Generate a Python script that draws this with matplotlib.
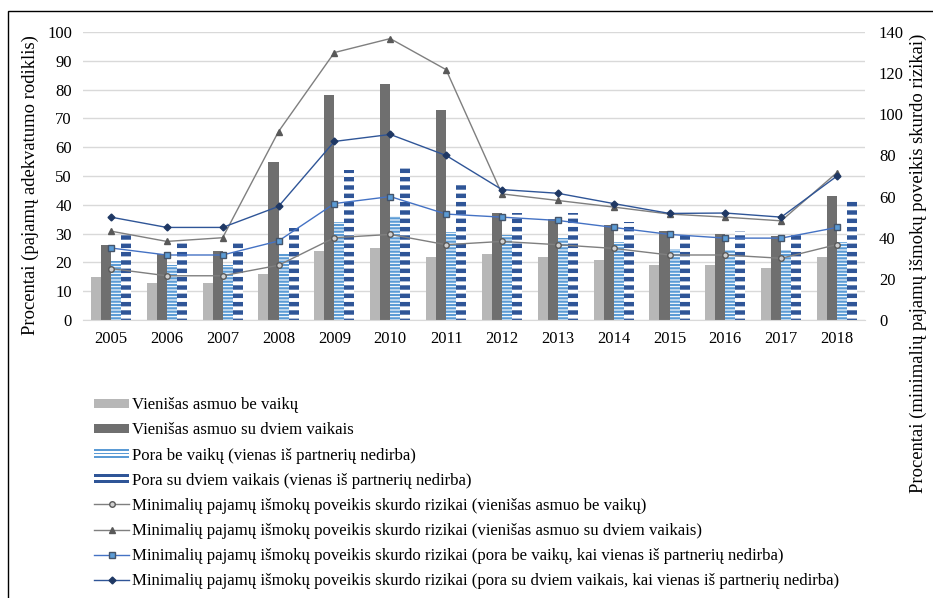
import matplotlib
matplotlib.use('Agg')
import matplotlib.pyplot as plt
import numpy as np
from matplotlib.patches import Rectangle
from matplotlib.legend_handler import HandlerBase

plt.rcParams['font.family'] = ['Liberation Serif', 'DejaVu Serif']

years = ['2005', '2006', '2007', '2008', '2009', '2010', '2011',
         '2012', '2013', '2014', '2015', '2016', '2017', '2018']

# bars, left axis (pajamu adekvatumo rodiklis)
single_no_kids = [15, 13, 13, 16, 24, 25, 22, 23, 22, 21, 19, 19, 18, 22]
single_two_kids = [26, 23, 24, 55, 78, 82, 73, 37, 35, 33, 31, 30, 29, 43]
couple_no_kids = [20.5, 19, 19, 23, 34, 36, 30.5, 29.5, 28.3, 27, 24.7, 24.3, 24.3, 27]
couple_two_kids = [29.5, 27, 27, 32, 52, 53, 47.5, 37.2, 37, 34, 29.5, 31, 29.5, 42]

# lines, right axis (poveikis skurdo rizikai)
eff_single_no_kids = [25, 21.5, 21.5, 26.6, 40, 41.6, 36.6, 38.2, 36.6, 34.8, 31.6, 31.6, 30, 36.7]
eff_single_two_kids = [43.2, 38.2, 40, 91.6, 130, 136.8, 121.7, 61.3, 58.1, 54.9, 51.5, 50, 48.2, 71.7]
eff_couple_no_kids = [35, 31.6, 31.6, 38.4, 56.6, 60, 51.5, 50, 48.4, 45, 41.6, 39.8, 39.8, 45]
eff_couple_two_kids = [50, 45, 45, 55.2, 86.8, 90.2, 80, 63.4, 61.6, 56.6, 51.8, 52, 50, 70]

bar_labels = ['Vienišas asmuo be vaikų',
              'Vienišas asmuo su dviem vaikais',
              'Pora be vaikų (vienas iš partnerių nedirba)',
              'Pora su dviem vaikais (vienas iš partnerių nedirba)']
line_labels = ['Minimalių pajamų išmokų poveikis skurdo rizikai (vienišas asmuo be vaikų)',
               'Minimalių pajamų išmokų poveikis skurdo rizikai (vienišas asmuo su dviem vaikais)',
               'Minimalių pajamų išmokų poveikis skurdo rizikai (pora be vaikų, kai vienas iš partnerių nedirba)',
               'Minimalių pajamų išmokų poveikis skurdo rizikai (pora su dviem vaikais, kai vienas iš partnerių nedirba)']


class StripedHandler(HandlerBase):
    # legend key for striped bars: a few horizontal stripes
    def __init__(self, color, n):
        super().__init__()
        self.color = color
        self.n = n

    def create_artists(self, legend, orig_handle, xdescent, ydescent,
                       width, height, fontsize, trans):
        arts = []
        step = height / (2 * self.n - 1)
        for i in range(self.n):
            r = Rectangle((-xdescent, -ydescent + 2 * i * step), width, step,
                          facecolor=self.color, edgecolor='none', transform=trans)
            arts.append(r)
        return arts


fig = plt.figure(figsize=(9.33, 5.98), dpi=100)
ax = fig.add_axes([83 / 933, 1 - 320 / 598, (865 - 83) / 933, (320 - 32) / 598])

x = np.arange(len(years))
w = 0.18

b1 = ax.bar(x - 1.5 * w, single_no_kids, w, color='#B7B7B7', label=bar_labels[0], zorder=2)
b2 = ax.bar(x - 0.5 * w, single_two_kids, w, color='#6F6F6F', label=bar_labels[1], zorder=2)
b3 = ax.bar(x + 0.5 * w, couple_no_kids, w, facecolor='white', edgecolor='#5B9BD5',
            hatch='-----', linewidth=0, label=bar_labels[2], zorder=2)
b4 = ax.bar(x + 1.5 * w, couple_two_kids, w, facecolor='white', edgecolor='#2F5597',
            hatch='--', linewidth=0, label=bar_labels[3], zorder=2)
for bars, hlw in [(b3, 1.6), (b4, 3.2)]:
    for p in bars:
        if hasattr(p, 'set_hatch_linewidth'):
            p.set_hatch_linewidth(hlw)

ax.set_xlim(-0.5, len(years) - 0.5)
ax.set_ylim(0, 100)
ax.set_yticks(range(0, 101, 10))
ax.set_xticks(x, years)
ax.yaxis.grid(True, color='#D9D9D9', linewidth=1, zorder=0)
ax.set_axisbelow(True)
for s in ['top', 'left', 'right']:
    ax.spines[s].set_visible(False)
ax.spines['bottom'].set_color('#D9D9D9')
ax.tick_params(length=0, labelsize=12, colors='black')
ax.tick_params(axis='x', pad=8)
ax.tick_params(axis='y', pad=8)

ax2 = ax.twinx()
ax2.set_ylim(0, 140)
ax2.set_yticks(range(0, 141, 20))
for s in ax2.spines.values():
    s.set_visible(False)
ax2.tick_params(length=0, labelsize=12, pad=10)

l1, = ax2.plot(x, eff_single_no_kids, color='#7F7F7F', lw=1, marker='o', ms=4,
               mfc='#D0D0D0', mec='#595959', mew=1, label=line_labels[0])
l2, = ax2.plot(x, eff_single_two_kids, color='#7F7F7F', lw=1, marker='^', ms=4.5,
               mfc='#595959', mec='#595959', label=line_labels[1])
l3, = ax2.plot(x, eff_couple_no_kids, color='#4472C4', lw=1, marker='s', ms=4,
               mfc='#5B9BD5', mec='#44546A', mew=1, label=line_labels[2])
l4, = ax2.plot(x, eff_couple_two_kids, color='#2F5597', lw=1, marker='D', ms=3.5,
               mfc='#1F3864', mec='#1F3864', label=line_labels[3])

fig.text(30 / 933, 1 - 185 / 598, 'Procentai (pajamų adekvatumo rodiklis)',
         rotation=90, ha='center', va='center', fontsize=13.4)
fig.text(918 / 933, 1 - 263 / 598,
         'Procentai (minimalių pajamų išmokų poveikis skurdo rizikai)',
         rotation=90, ha='center', va='center', fontsize=13.4)

handles = [b1, b2, b3, b4, l1, l2, l3, l4]
labels = bar_labels + line_labels
fig.legend(handles, labels, loc='upper left', bbox_to_anchor=(86 / 933, 1 - 389 / 598),
           frameon=False, fontsize=12.1, handlelength=2.05, handleheight=0.45,
           labelspacing=0.54, handletextpad=0.2, borderpad=0,
           handler_map={b3: StripedHandler('#5B9BD5', 3),
                        b4: StripedHandler('#2F5597', 2)})

# outer frame of the original chart
fig.patches.append(Rectangle((8 / 933, -0.05), 1.2, 1 - 11 / 598 + 0.05,
                             transform=fig.transFigure, fill=False,
                             edgecolor='black', linewidth=1))

fig.savefig('out.png', dpi=100)
